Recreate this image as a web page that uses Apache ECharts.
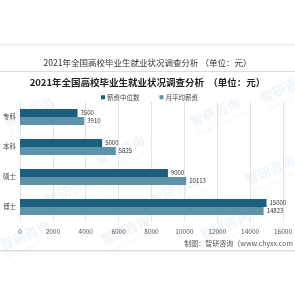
<!DOCTYPE html>
<html>
<head>
<meta charset="utf-8">
<script src="https://cdn.jsdelivr.net/npm/echarts@6/dist/echarts.min.js"></script>
<style>html,body{margin:0;padding:0;background:#fff}#c{width:295px;height:295px}</style>
</head>
<body>
<div id="c"></div>
<script>
const categories = ['专科', '本科', '硕士', '博士'];
const medianSalary = [3500, 5000, 9000, 15000];
const avgSalary = [3910, 5825, 10113, 14823];
const xTicks = [0, 2000, 4000, 6000, 8000, 10000, 12000, 14000, 16000];
const seriesNames = ['薪资中位数', '月平均薪资'];

const chart = echarts.init(document.getElementById('c'));
const F = '"Noto Sans CJK SC", "Noto Sans", sans-serif';

const wm = [];
const wmPos = [[28,112],[120,150],[215,112],[285,88],[25,235],[125,230],[225,225],[70,190],[175,190],[270,170]];
wmPos.forEach(p => {
  wm.push({type:'text', x:p[0], y:p[1], rotation: Math.PI/7.5, silent:true, z:0,
    style:{text:'智研咨询', fill:'rgba(150,180,215,0.15)', font:'bold 13px '+F, textAlign:'center', textVerticalAlign:'middle'}});
  wm.push({type:'text', x:p[0]+6, y:p[1]+11, rotation: Math.PI/7.5, silent:true, z:0,
    style:{text:'w w w . c h y x x . c o m', fill:'rgba(150,180,215,0.18)', font:'5px '+F, textAlign:'center', textVerticalAlign:'middle'}});
});

chart.setOption({
  animation: false,
  backgroundColor: '#fff',
  color: ['#1b5f7e', '#5d92a9'],
  title: [{
    text: '2021年全国高校毕业生就业状况调查分析 （单位：元）',
    left: 'center', top: 54,
    textStyle: {fontSize: 8.5, fontWeight: 'normal', color: '#333', fontFamily: F}
  }, {
    text: '2021年全国高校毕业生就业状况调查分析  （单位：元）',
    left: 'center', top: 73,
    textStyle: {fontSize: 9.5, fontWeight: 'bold', color: '#222', fontFamily: F}
  }],
  legend: {
    data: seriesNames, top: 89, left: 96,
    itemWidth: 4, itemHeight: 4, itemGap: 20, icon: 'rect',
    textStyle: {fontSize: 6.5, color: '#444', fontFamily: F, padding: [0,0,0,-3]}
  },
  grid: {left: 19, right: 8, top: 102, bottom: 73, containLabel: false},
  xAxis: {
    type: 'value', min: 0, max: 16000, interval: 2000,
    axisLine: {show: false}, axisTick: {show: false},
    splitLine: {lineStyle: {color: '#e3e3e3', width: 1}},
    axisLabel: {fontSize: 6.5, color: '#555', fontFamily: F, margin: 6,
      formatter: v => xTicks.includes(v) ? String(v) : ''}
  },
  yAxis: {
    type: 'category', data: categories, inverse: true,
    axisLine: {show: false}, axisTick: {show: false},
    axisLabel: {fontSize: 6.5, color: '#444', fontFamily: F, margin: 4}
  },
  series: [{
    name: seriesNames[0], type: 'bar', data: medianSalary, barWidth: 8, barGap: '0%',
    label: {show: true, position: 'right', fontSize: 6, color: '#333', fontFamily: F, distance: 3}
  }, {
    name: seriesNames[1], type: 'bar', data: avgSalary, barWidth: 8,
    label: {show: true, position: 'right', fontSize: 6, color: '#333', fontFamily: F, distance: 3}
  }],
  graphic: [
    {type:'rect', shape:{x:0,y:44,width:295,height:1}, style:{fill:'#e6e6e6'}, silent:true},
    {type:'rect', shape:{x:0,y:71,width:295,height:1}, style:{fill:'#dcdcdc'}, silent:true},
    {type:'rect', shape:{x:0,y:250,width:295,height:1.5}, style:{fill:'#dddddd'}, silent:true},
    {type:'text', x:293, y:243, silent:true,
      style:{text:'制图：智研咨询（www.chyxx.com', fill:'#555', font:'7px '+F, textAlign:'right', textVerticalAlign:'middle'}}
  ].concat(wm)
});
</script>
</body>
</html>
